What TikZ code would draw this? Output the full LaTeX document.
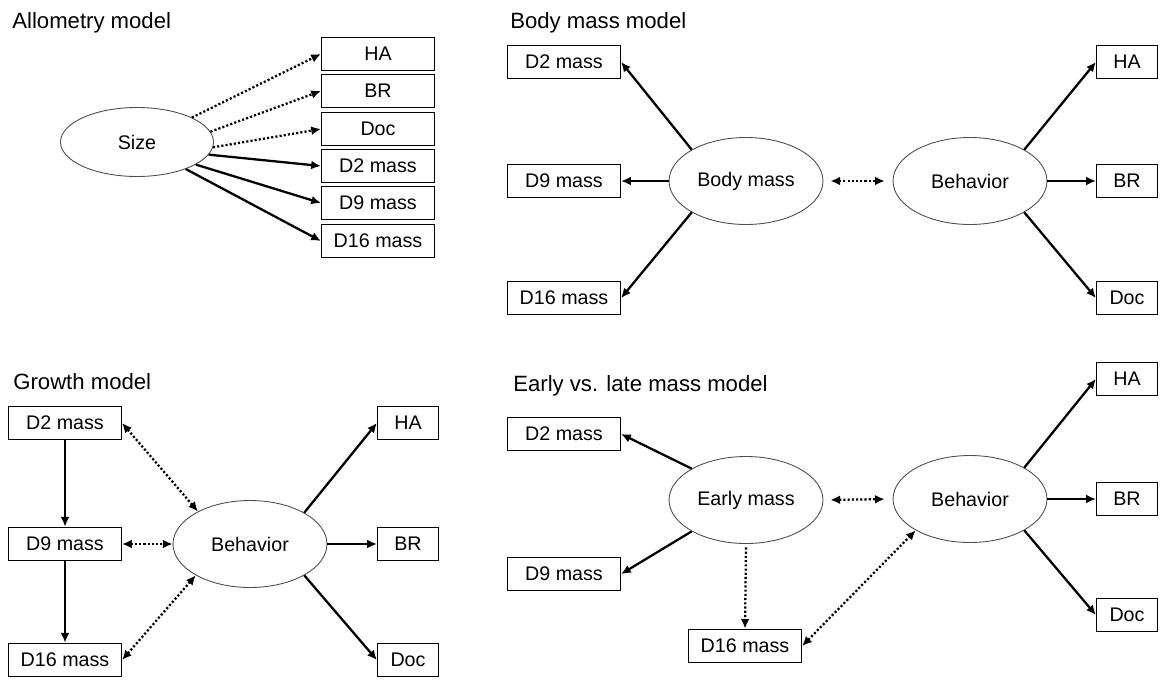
\documentclass[tikz,border=0pt]{standalone}
\usepackage{fontspec}
\setmainfont{Liberation Sans}
\usetikzlibrary{arrows.meta,shapes.geometric}

\begin{document}
\begin{tikzpicture}[x=0.02cm, y=-0.02cm,
  every node/.style={font=\fontsize{11.2}{13}\selectfont},
  title/.style={anchor=base west, inner sep=0pt, font=\fontsize{12.6}{15}\selectfont},
  bigbox/.style={draw, line width=0.7pt, minimum width=2.26cm, minimum height=0.67cm, inner sep=0pt},
  smallbox/.style={draw, line width=0.7pt, minimum width=1.22cm, minimum height=0.67cm, inner sep=0pt},
  latent/.style={ellipse, draw=black!70, line width=0.5pt, minimum width=3.08cm, minimum height=1.74cm, inner sep=0pt},
  solidarr/.style={line width=1.3pt, -{Latex[length=5.5pt,width=5pt]}},
  dotarr/.style={line width=1.3pt, dash pattern=on 1.2pt off 1.2pt, -{Latex[length=5.5pt,width=5pt]}},
  dotboth/.style={line width=1.3pt, dash pattern=on 1.2pt off 1.2pt, {Latex[length=5.5pt,width=5pt]}-{Latex[length=5.5pt,width=5pt]}}]

\useasboundingbox (0,0) rectangle (1165,679);

% allometry model
\node[title] (t1) at (12,29) {Allometry model};
\node[latent, minimum width=3.06cm, minimum height=1.38cm] (size) at (137,142) {Size};
\node[bigbox] (ha1) at (378,54) {HA};
\node[bigbox] (br1) at (378,91) {BR};
\node[bigbox] (doc1) at (378,129) {Doc};
\node[bigbox] (d2a) at (378,166) {D2 mass};
\node[bigbox] (d9a) at (378,203) {D9 mass};
\node[bigbox] (d16a) at (378,241) {D16 mass};

\draw[dotarr] (size.24) -- (ha1.west);
\draw[dotarr] (size.8) -- (br1.west);
\draw[dotarr] (size.-4) -- (doc1.west);
\draw[solidarr] (size.-10) -- (d2a.west);
\draw[solidarr] (size.-21) -- (d9a.west);
\draw[solidarr] (size.-29) -- (d16a.west);

% body mass model
\node[title] (t2) at (510,29) {Body mass model};
\node[latent] (body) at (746,181) {Body mass};
\node[latent] (behav2) at (970,181) {Behavior};
\node[bigbox] (d2b) at (564,62) {D2 mass};
\node[bigbox] (d9b) at (564,181) {D9 mass};
\node[bigbox] (d16b) at (564,298) {D16 mass};
\node[smallbox] (ha2) at (1127,62) {HA};
\node[smallbox] (br2) at (1127,181) {BR};
\node[smallbox] (doc2) at (1127,298) {Doc};

\draw[solidarr] (body.150) -- (d2b.east);
\draw[solidarr] (body.west) -- (d9b.east);
\draw[solidarr] (body.210) -- (d16b.east);
\draw[dotboth, shorten <=4pt, shorten >=4.5pt] (body.east) -- (behav2.west);
\draw[solidarr] (behav2.30) -- (ha2.west);
\draw[solidarr] (behav2.east) -- (br2.west);
\draw[solidarr] (behav2.-30) -- (doc2.west);

% growth model
\node[title] (t3) at (13,389) {Growth model};
\node[bigbox] (d2c) at (65,423) {D2 mass};
\node[bigbox] (d9c) at (65,544) {D9 mass};
\node[bigbox] (d16c) at (65,660) {D16 mass};
\node[latent] (behav3) at (250,544) {Behavior};
\node[smallbox] (ha3) at (408,423) {HA};
\node[smallbox] (br3) at (408,544) {BR};
\node[smallbox] (doc3) at (408,660) {Doc};

\draw[solidarr] (d2c) -- (d9c);
\draw[solidarr] (d9c) -- (d16c);
\draw[dotboth] (d2c.east) -- (behav3.148);
\draw[dotboth] (d9c.east) -- (behav3.west);
\draw[dotboth] (d16c.east) -- (behav3.210);
\draw[solidarr] (behav3.30) -- (ha3.west);
\draw[solidarr] (behav3.east) -- (br3.west);
\draw[solidarr] (behav3.-30) -- (doc3.west);

% early vs. late mass model
\node[title] (t4) at (513,391) {Early vs. late mass model};
\node[bigbox] (d2d) at (564,434) {D2 mass};
\node[bigbox] (d9d) at (564,574) {D9 mass};
\node[bigbox] (d16d) at (745,646) {D16 mass};
\node[latent] (early) at (746,500) {Early mass};
\node[latent] (behav4) at (970,499) {Behavior};
\node[smallbox] (ha4) at (1127,379) {HA};
\node[smallbox] (br4) at (1127,499) {BR};
\node[smallbox] (doc4) at (1127,615) {Doc};

\draw[solidarr] (early.150) -- (d2d.east);
\draw[solidarr] (early.210) -- (d9d.east);
\draw[dotarr, shorten <=2pt] (early.south) -- (d16d.north);
\draw[dotboth, shorten <=4pt, shorten >=4.5pt] (early.east) -- (behav4.west);
\draw[dotboth] (d16d.east) -- (behav4.210);
\draw[solidarr] (behav4.30) -- (ha4.west);
\draw[solidarr] (behav4.east) -- (br4.west);
\draw[solidarr] (behav4.-30) -- (doc4.west);
\end{tikzpicture}
\end{document}
